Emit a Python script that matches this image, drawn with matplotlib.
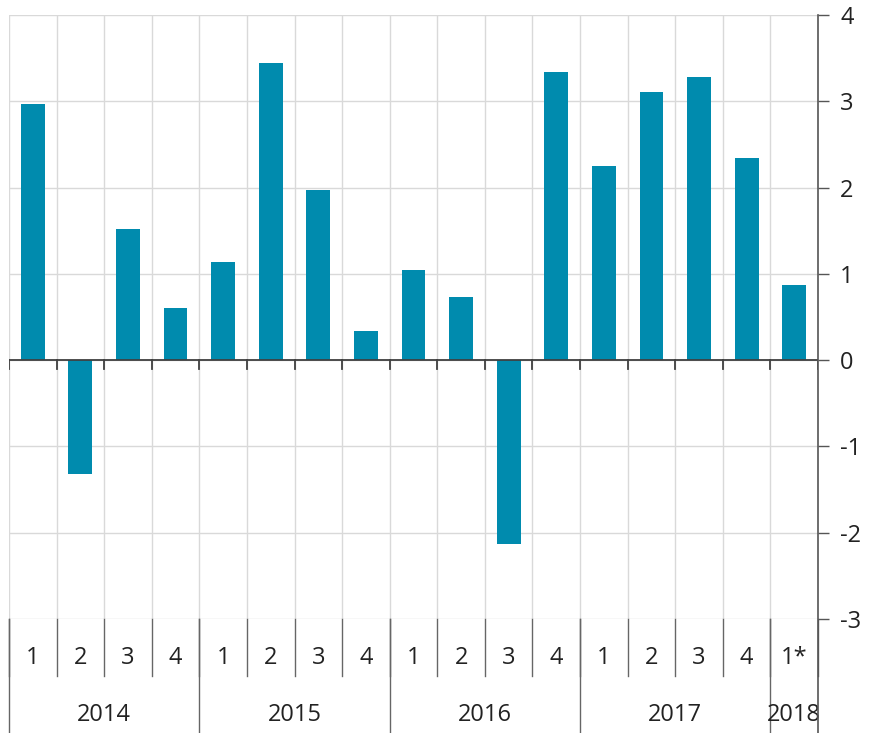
import numpy as np
import matplotlib.pyplot as plt
import matplotlib.transforms as mtransforms

plt.rcParams['font.family'] = ['Open Sans', 'DejaVu Sans']

# quarterly values
quarters = ['1', '2', '3', '4', '1', '2', '3', '4', '1', '2', '3', '4',
            '1', '2', '3', '4', '1*']
years = ['2014', '2015', '2016', '2017', '2018']
quarters_per_year = [4, 4, 4, 4, 1]
values = [2.97, -1.32, 1.52, 0.61, 1.14, 3.44, 1.97, 0.34, 1.05, 0.73,
          -2.13, 3.34, 2.25, 3.11, 3.28, 2.34, 0.87]
yticks = [-3, -2, -1, 0, 1, 2, 3, 4]

bar_color = '#008BAE'
grid_color = '#d9d9d9'
sep_color = '#666666'
text_color = '#222222'
fs = 17

fig = plt.figure(figsize=(8.7, 7.33), dpi=100)
ax = fig.add_axes([9/870, 1-619/733, (818-9)/870, (619-15)/733])

x = np.arange(len(values))
ax.bar(x, values, width=0.5, color=bar_color, zorder=3)

ax.set_xlim(-0.5, len(values)-0.5)
ax.set_ylim(-3, 4)

# horizontal grid
for t in yticks:
    ax.axhline(t, color=grid_color, linewidth=1, zorder=1)
# vertical grid at category borders
borders = np.arange(-0.5, len(values), 1.0)
for b in borders:
    ax.axvline(b, color=grid_color, linewidth=1, zorder=1)

# zero line with small downward ticks
ax.axhline(0, color='#404040', linewidth=1.3, zorder=4)
for b in borders:
    ax.plot([b, b], [0, -0.1], color='#404040', linewidth=1.3, zorder=4)

# right axis
ax.yaxis.tick_right()
ax.set_yticks(yticks)
ax.set_yticklabels([str(t) for t in yticks])
ax.tick_params(axis='y', direction='out', length=8, width=1, color='#555555',
               labelsize=fs, labelcolor=text_color, pad=8)
ax.set_xticks([])
for side in ['top', 'left', 'bottom', 'right']:
    ax.spines[side].set_visible(False)

# category labels below the chart
bt = mtransforms.blended_transform_factory(ax.transData, ax.transAxes)
q_top, q_bot, y_bot = 0.0, -0.0944, -0.1887

# right axis line running down through the label area
ax.plot([len(values)-0.5]*2, [1, y_bot], transform=bt, color='#555555',
        linewidth=1.2, clip_on=False, zorder=5)

for i, q in enumerate(quarters):
    ax.text(i, -0.0646, q, transform=bt, ha='center', va='center',
            fontsize=fs, color=text_color)
for b in borders:
    ax.plot([b, b], [q_top, q_bot], transform=bt, color=sep_color,
            linewidth=1, clip_on=False)

start = 0
for yr, n in zip(years, quarters_per_year):
    ax.text(start + (n-1)/2, -0.1589, yr, transform=bt, ha='center',
            va='center', fontsize=fs, color=text_color)
    ax.plot([start-0.5, start-0.5], [q_top, y_bot], transform=bt,
            color=sep_color, linewidth=1, clip_on=False)
    start += n

fig.savefig('out.png', dpi=100)
